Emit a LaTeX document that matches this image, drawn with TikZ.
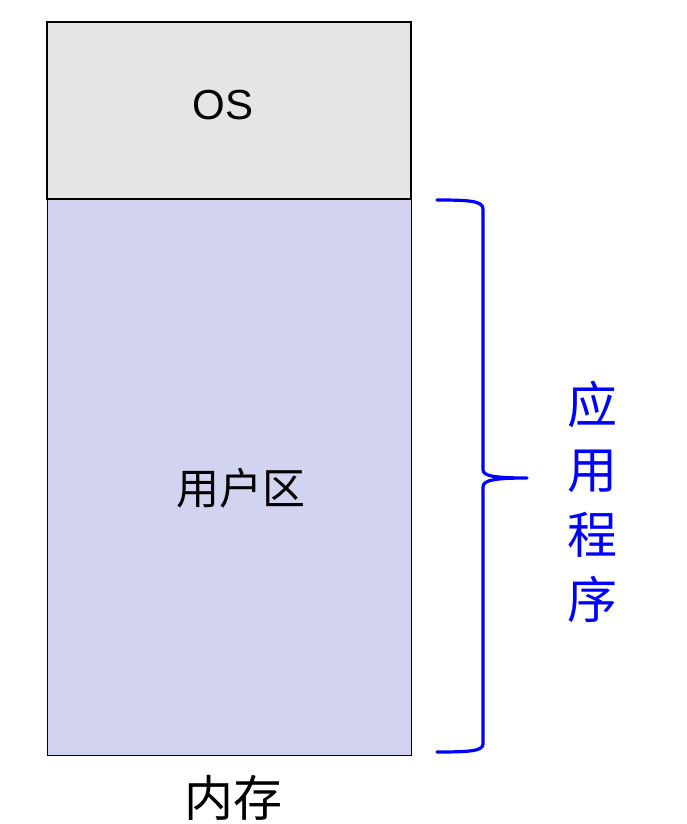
\documentclass[tikz,border=0pt]{standalone}
\usepackage{fontspec}
\setmainfont{Liberation Sans}
\newfontfamily\cjk{Noto Sans CJK SC}
\definecolor{osgray}{RGB}{229,229,229}
\definecolor{userlav}{RGB}{210,211,240}
\definecolor{braceblue}{RGB}{0,0,255}
\begin{document}
\begin{tikzpicture}[x=1pt,y=-1pt,
  membox/.style={draw=black,line width=1.4pt},
  bracepath/.style={draw=braceblue,line width=3.2pt,line cap=round,line join=round}]
\useasboundingbox (0,0) rectangle (687,824);
\fill[white] (0,0) rectangle (687,824);
% boxes
\filldraw[membox,fill=userlav,line width=1pt] (47,199) rectangle (411,755);
\filldraw[membox,fill=osgray] (47,22) rectangle (411,199);
\node (os) at (223,105) {\fontsize{42}{48}\selectfont OS};
\node (user) at (241,488) {\cjk\fontsize{43}{48}\selectfont 用户区};
\node (mem) at (233,798) {\cjk\fontsize{49}{54}\selectfont 内存};
% brace
\draw[bracepath] (437,200) .. controls (470,200) and (483,201) .. (483,209)
  -- (483,470) .. controls (483,476) and (495,478) .. (527,478)
  .. controls (495,478) and (483,480) .. (483,487)
  -- (483,744) .. controls (483,751) and (470,752) .. (437,752);
\node[text=braceblue,align=center,inner sep=0pt,
  font={\cjk\fontsize{50}{65}\selectfont}] (app) at (592,502)
  {应\\用\\程\\序};
\end{tikzpicture}
\end{document}
